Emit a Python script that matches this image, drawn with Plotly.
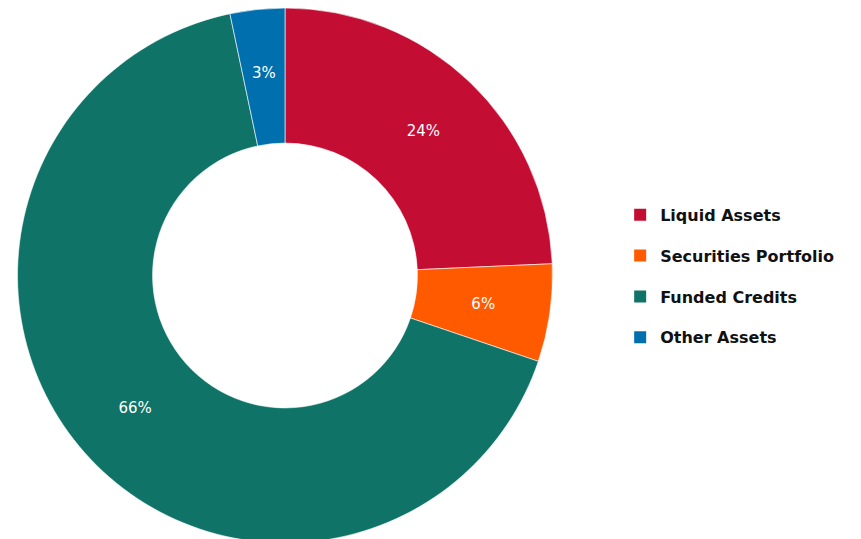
import plotly.graph_objects as go

labels = ["Liquid Assets", "Securities Portfolio", "Funded Credits", "Other Assets"]
values = [24.3, 5.9, 66.5, 3.3]
text_labels = ["24%", "6%", "66%", "3%"]
colors = ["#C40D33", "#FF5A00", "#0F7467", "#006FAE"]

W, H = 861, 539
cx, cy = 277, 271.5  # pie centre: px from left, px from bottom
R_label = 225

fig = go.Figure()
# main donut (no text)
fig.add_trace(go.Pie(
    labels=labels,
    values=values,
    textinfo="none",
    marker=dict(colors=colors, line=dict(color="white", width=0.6)),
    hole=0.495,
    sort=False,
    direction="clockwise",
    rotation=0,
    showlegend=False,
    domain=dict(x=[0, 554 / W], y=[4 / H, 1]),
))
# transparent ring carrying the percentage labels at mid-ring radius
fig.add_trace(go.Pie(
    labels=labels,
    values=values,
    text=text_labels,
    textinfo="text",
    textposition="inside",
    insidetextorientation="horizontal",
    textfont=dict(family="DejaVu Sans", size=15, color="white"),
    marker=dict(colors=["rgba(0,0,0,0)"] * len(labels), line=dict(width=0)),
    hole=0.78,
    sort=False,
    direction="clockwise",
    rotation=0,
    showlegend=False,
    hoverinfo="skip",
    domain=dict(x=[(cx - R_label) / W, (cx + R_label) / W],
                y=[(cy - R_label) / H, (cy + R_label) / H]),
))

for lab, col in zip(labels, colors):
    fig.add_trace(go.Scatter(
        x=[None], y=[None], mode="markers", name=lab, legendgroup=lab,
        marker=dict(symbol="square", size=12, color=col),
        showlegend=True,
    ))

fig.update_layout(
    width=W, height=H,
    margin=dict(l=0, r=0, t=0, b=0),
    paper_bgcolor="white", plot_bgcolor="white",
    xaxis=dict(visible=False), yaxis=dict(visible=False),
    legend=dict(
        x=0.711, y=0.502, xanchor="left", yanchor="middle",
        font=dict(family="DejaVu Sans", size=16, color="#111111", weight="bold"),
        tracegroupgap=17, itemwidth=30,
        bgcolor="rgba(0,0,0,0)",
    ),
)

fig.write_html("out.html")
